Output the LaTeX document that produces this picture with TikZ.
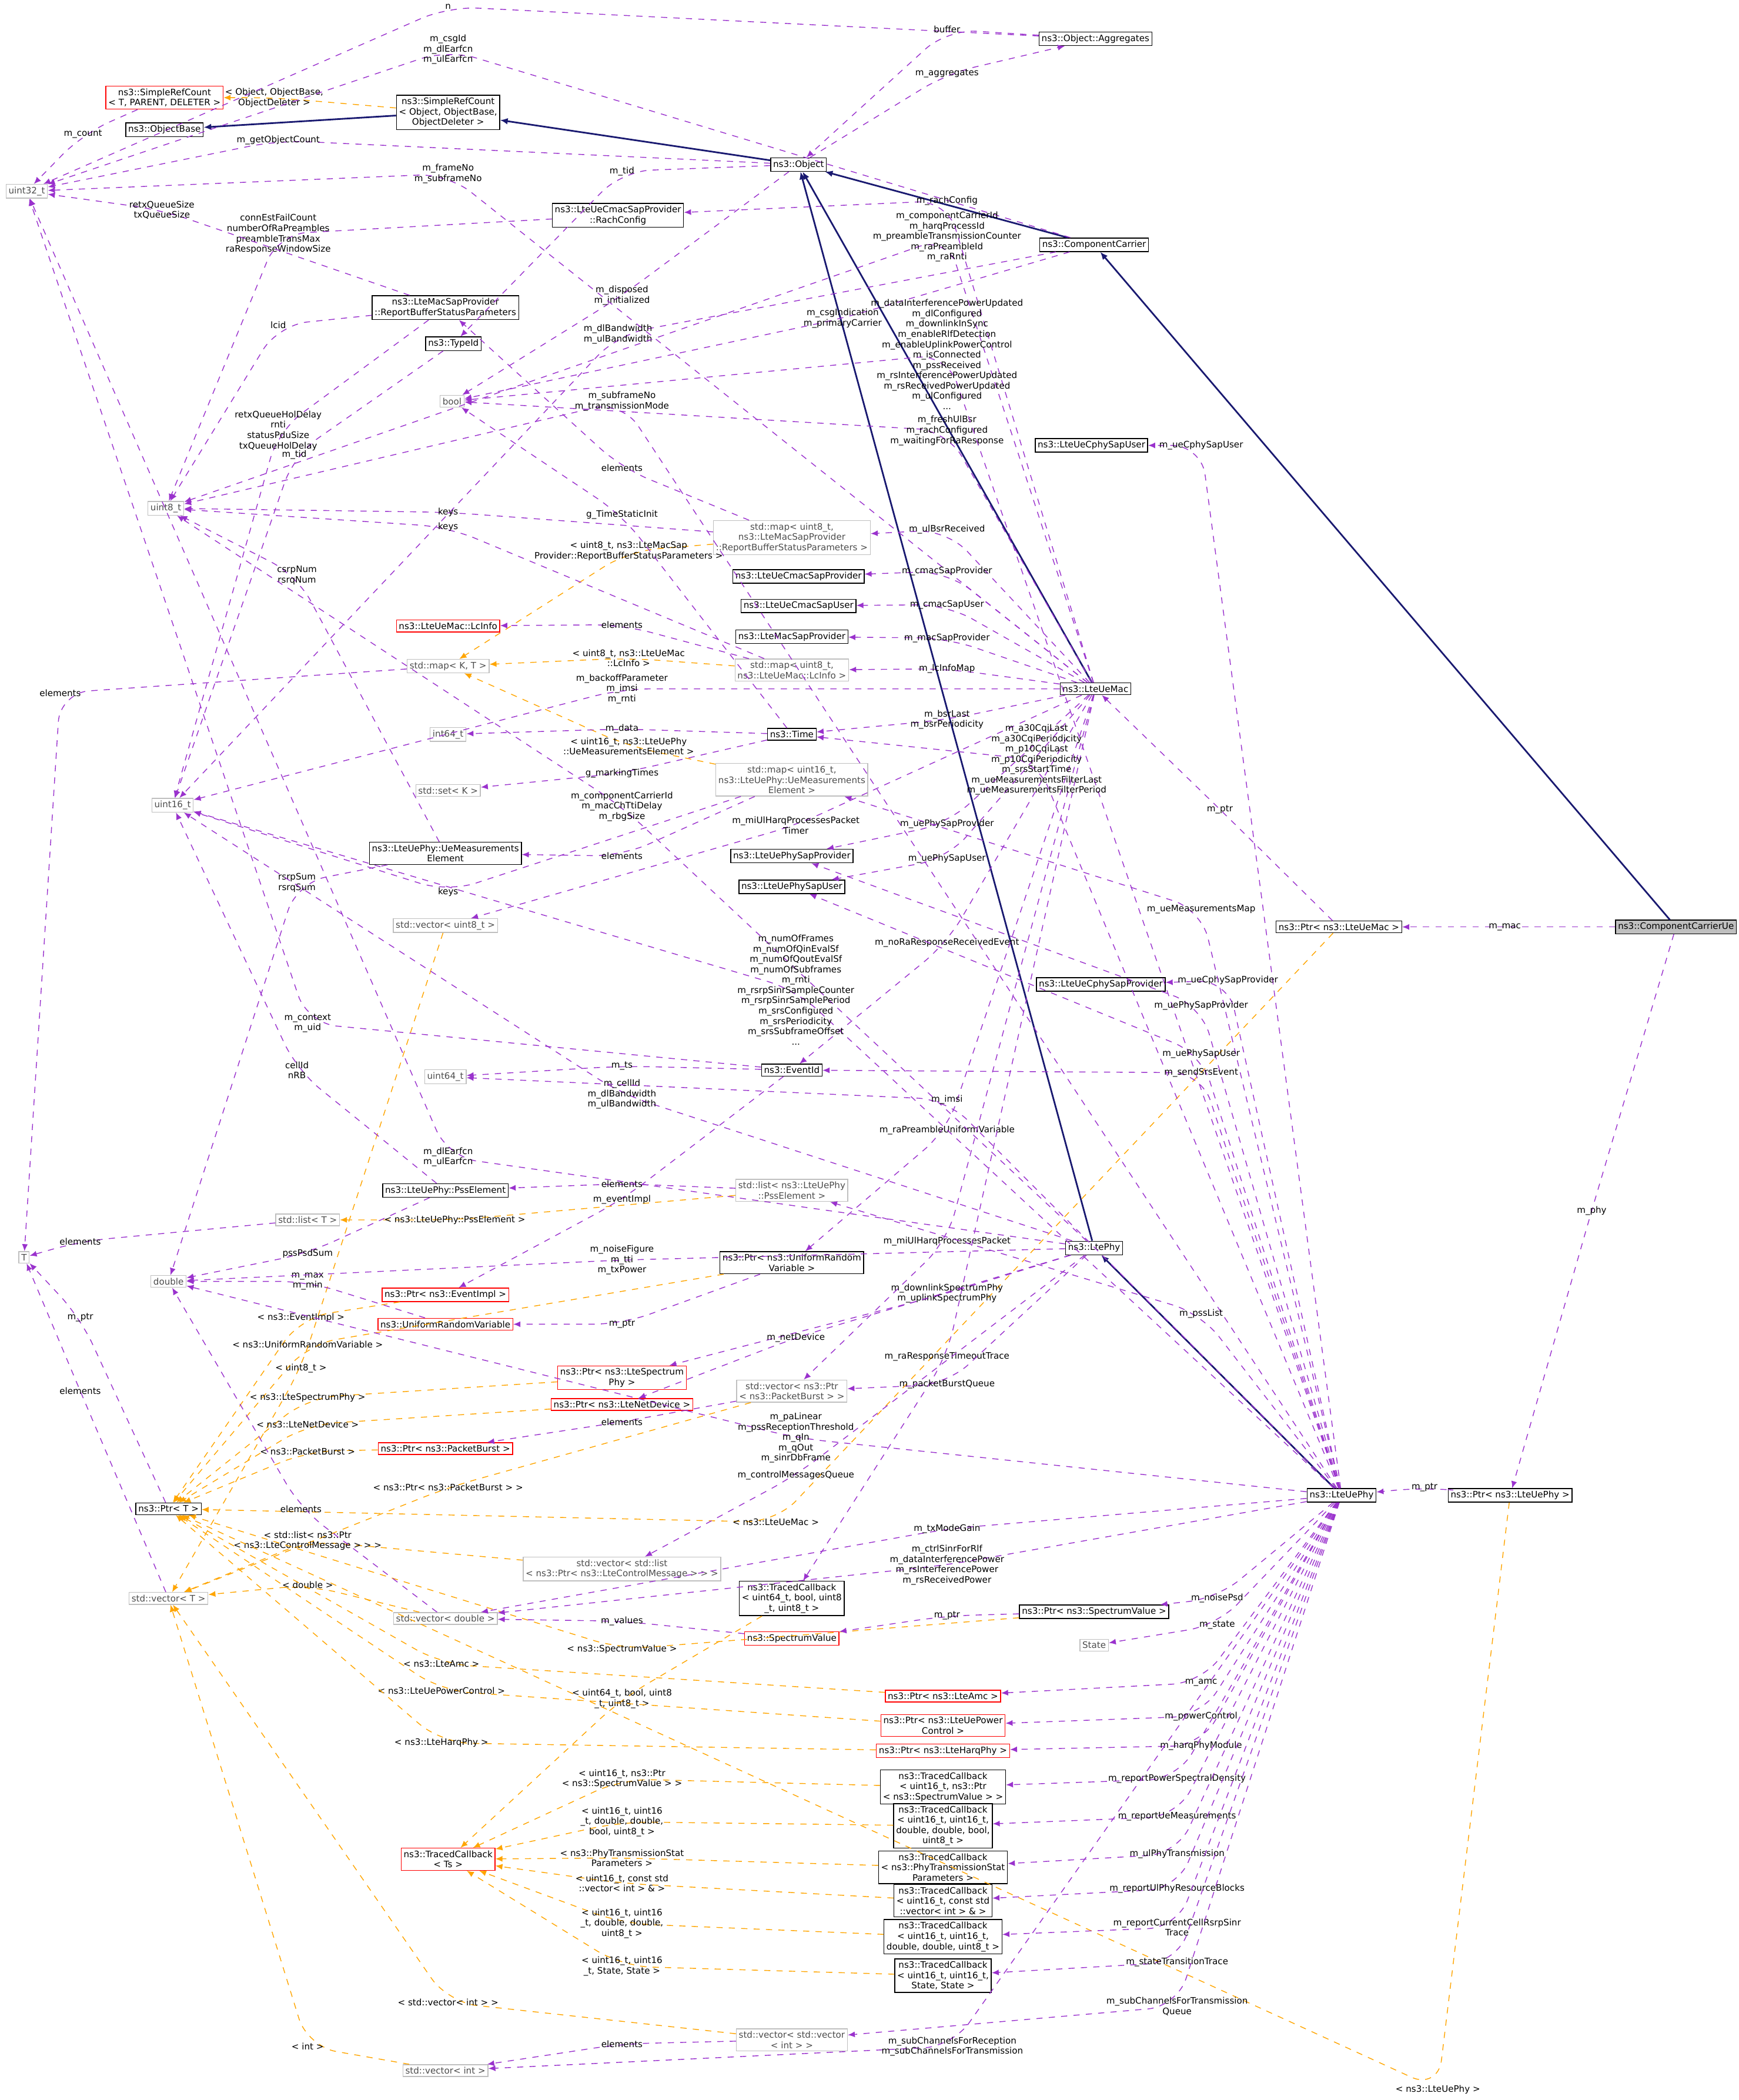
\documentclass[tikz,border=0pt]{standalone}
\usepackage{fontspec}
\setmainfont{DejaVu Sans}
\usetikzlibrary{arrows.meta}
\definecolor{usecol}{HTML}{9A32CD}
\definecolor{tplcol}{HTML}{FFA500}
\definecolor{inhcol}{HTML}{191970}
\definecolor{grayb}{HTML}{BFBFBF}
\newcommand{\edgevia}[5]{%
  \draw[#1, rounded corners=14pt] (#2) -- (#4) -- (#3);
  \node[lbl] at (#4) {#5};}
\begin{document}
\catcode`\_=12
\begin{tikzpicture}[x=0.02275cm, y=-0.02275cm,
    font=\fontsize{4.3}{5}\selectfont,
    cls/.style = {draw, rectangle, inner sep=1.2pt, align=center},
    ext/.style = {cls, draw=grayb, text=black!70},
    bad/.style = {cls, draw=red},
    inh/.style = {-{Latex[length=1.3mm,width=1.1mm]}, inhcol, thick},
    use/.style = {-{Latex[length=1.2mm,width=1mm]}, usecol, dashed},
    tpl/.style = {-{Latex[length=1.2mm,width=1mm]}, tplcol, dashed},
    lbl/.style = {align=center, text=black, inner sep=0.5pt}]
    \useasboundingbox (0,0) rectangle (1300,1570);
    % Nodes
    \node[cls, fill=grayb] (ccue) at (1253,693) {ns3::ComponentCarrierUe};
    \node[cls] (ptrmac) at (1001,693) {ns3::Ptr< ns3::LteUeMac >};
    \node[cls] (ptrphy) at (1129,1118) {ns3::Ptr< ns3::LteUePhy >};
    \node[cls] (uephy) at (1003,1118) {ns3::LteUePhy};
    \node[cls] (ltephy) at (818,933) {ns3::LtePhy};
    \node[cls] (uemac) at (819,515) {ns3::LteUeMac};
    \node[cls] (cc) at (818,183) {ns3::ComponentCarrier};
    \node[cls] (obj) at (597,123) {ns3::Object};
    \node[cls] (aggr) at (819,29) {ns3::Object::Aggregates};
    \node[cls] (srcobj) at (335,84) {ns3::SimpleRefCount\\< Object, ObjectBase,\\ObjectDeleter >};
    \node[bad] (srct) at (123,73) {ns3::SimpleRefCount\\< T, PARENT, DELETER >};
    \node[cls] (objbase) at (123,97) {ns3::ObjectBase};
    \node[ext] (uint32) at (20,143) {uint32_t};
    \node[cls] (rach) at (462,161) {ns3::LteUeCmacSapProvider\\::RachConfig};
    \node[cls] (rbs) at (333,230) {ns3::LteMacSapProvider\\::ReportBufferStatusParameters};
    \node[cls] (typeid) at (339,257) {ns3::TypeId};
    \node[ext] (bool) at (338,300) {bool};
    \node[ext] (uint8) at (124,380) {uint8_t};
    \node[ext] (maprbs) at (592,402) {std::map< uint8_t,\\ns3::LteMacSapProvider\\::ReportBufferStatusParameters >};
    \node[cls] (cmacprov) at (597,431) {ns3::LteUeCmacSapProvider};
    \node[cls] (cmacuser) at (597,453) {ns3::LteUeCmacSapUser};
    \node[cls] (macprov) at (592,476) {ns3::LteMacSapProvider};
    \node[ext] (maplc) at (592,501) {std::map< uint8_t,\\ns3::LteUeMac::LcInfo >};
    \node[bad] (lcinfo) at (335,468) {ns3::LteUeMac::LcInfo};
    \node[ext] (mapkt) at (335,498) {std::map< K, T >};
    \node[ext] (int64) at (335,549) {int64_t};
    \node[cls] (time) at (592,549) {ns3::Time};
    \node[ext] (setk) at (335,591) {std::set< K >};
    \node[ext] (mapmeas) at (592,583) {std::map< uint16_t,\\ns3::LteUePhy::UeMeasurements\\Element >};
    \node[ext] (uint16) at (129,602) {uint16_t};
    \node[cls] (meas) at (333,638) {ns3::LteUePhy::UeMeasurements\\Element};
    \node[cls] (physapprov) at (592,640) {ns3::LteUePhySapProvider};
    \node[cls] (physapuser) at (592,663) {ns3::LteUePhySapUser};
    \node[ext] (vecu8) at (333,692) {std::vector< uint8_t >};
    \node[cls] (cphyuser) at (816,333) {ns3::LteUeCphySapUser};
    \node[cls] (cphyprov) at (823,736) {ns3::LteUeCphySapProvider};
    \node[ext] (uint64) at (333,805) {uint64_t};
    \node[cls] (eventid) at (592,800) {ns3::EventId};
    \node[cls] (psselem) at (333,890) {ns3::LteUePhy::PssElement};
    \node[ext] (listpss) at (592,890) {std::list< ns3::LteUePhy\\::PssElement >};
    \node[ext] (listt) at (230,912) {std::list< T >};
    \node[ext] (tT) at (18,940) {T};
    \node[ext] (double) at (126,958) {double};
    \node[bad] (ptrevent) at (333,968) {ns3::Ptr< ns3::EventImpl >};
    \node[cls] (ptrurv) at (592,944) {ns3::Ptr< ns3::UniformRandom\\Variable >};
    \node[bad] (urv) at (333,990) {ns3::UniformRandomVariable};
    \node[bad] (ptrspec) at (465,1030) {ns3::Ptr< ns3::LteSpectrum\\Phy >};
    \node[bad] (ptrnet) at (465,1050) {ns3::Ptr< ns3::LteNetDevice >};
    \node[ext] (vecpb) at (592,1040) {std::vector< ns3::Ptr\\< ns3::PacketBurst > >};
    \node[bad] (ptrpb) at (333,1083) {ns3::Ptr< ns3::PacketBurst >};
    \node[cls] (ptrt) at (126,1128) {ns3::Ptr< T >};
    \node[ext] (veclist) at (465,1173) {std::vector< std::list\\< ns3::Ptr< ns3::LteControlMessage > > >};
    \node[ext] (vect) at (126,1195) {std::vector< T >};
    \node[ext] (vecdbl) at (333,1210) {std::vector< double >};
    \node[cls] (tc1) at (592,1195) {ns3::TracedCallback\\< uint64_t, bool, uint8\\_t, uint8_t >};
    \node[bad] (sv) at (592,1225) {ns3::SpectrumValue};
    \node[cls] (ptrsv) at (818,1205) {ns3::Ptr< ns3::SpectrumValue >};
    \node[ext] (state) at (818,1230) {State};
    \node[bad] (ptramc) at (705,1268) {ns3::Ptr< ns3::LteAmc >};
    \node[bad] (ptrpc) at (705,1290) {ns3::Ptr< ns3::LteUePower\\Control >};
    \node[bad] (ptrharq) at (705,1309) {ns3::Ptr< ns3::LteHarqPhy >};
    \node[cls] (tc2) at (705,1336) {ns3::TracedCallback\\< uint16_t, ns3::Ptr\\< ns3::SpectrumValue > >};
    \node[cls] (tc3) at (705,1365) {ns3::TracedCallback\\< uint16_t, uint16_t,\\double, double, bool,\\uint8_t >};
    \node[cls] (tc4) at (705,1396) {ns3::TracedCallback\\< ns3::PhyTransmissionStat\\Parameters >};
    \node[cls] (tc5) at (705,1421) {ns3::TracedCallback\\< uint16_t, const std\\::vector< int > \& >};
    \node[cls] (tc6) at (705,1448) {ns3::TracedCallback\\< uint16_t, uint16_t,\\double, double, uint8_t >};
    \node[cls] (tc7) at (705,1477) {ns3::TracedCallback\\< uint16_t, uint16_t,\\State, State >};
    \node[bad] (tcts) at (335,1390) {ns3::TracedCallback\\< Ts >};
    \node[ext] (vecvec) at (592,1525) {std::vector< std::vector\\< int > >};
    \node[ext] (vecint) at (333,1548) {std::vector< int >};

    % Inheritance
    \foreach \a/\b in {ccue/cc, cc/obj, uemac/obj, ltephy/obj, uephy/ltephy, obj/srcobj, srcobj/objbase}
        \draw[inh] (\a) -- (\b);

    % Template instances
    \foreach \a/\b/\l/\t in {srcobj/srct/{205,73}/{< Object, ObjectBase,\\ObjectDeleter >},
        maprbs/mapkt/{470,412}/{< uint8_t, ns3::LteMacSap\\Provider::ReportBufferStatusParameters >},
        maplc/mapkt/{470,492}/{< uint8_t, ns3::LteUeMac\\::LcInfo >},
        mapmeas/mapkt/{470,558}/{< uint16_t, ns3::LteUePhy\\::UeMeasurementsElement >},
        listpss/listt/{340,912}/{< ns3::LteUePhy::PssElement >},
        ptrevent/ptrt/{225,985}/{< ns3::EventImpl >},
        ptrurv/ptrt/{230,1005}/{< ns3::UniformRandomVariable >},
        vecu8/vect/{225,1023}/{< uint8_t >},
        ptrspec/ptrt/{230,1045}/{< ns3::LteSpectrumPhy >},
        ptrnet/ptrt/{230,1065}/{< ns3::LteNetDevice >},
        ptrpb/ptrt/{230,1085}/{< ns3::PacketBurst >},
        vecpb/vect/{335,1112}/{< ns3::Ptr< ns3::PacketBurst > >},
        ptrmac/ptrt/{580,1138}/{< ns3::LteUeMac >},
        veclist/vect/{230,1152}/{< std::list< ns3::Ptr\\< ns3::LteControlMessage > > >},
        vecdbl/vect/{230,1185}/{< double >},
        tc1/tcts/{465,1270}/{< uint64_t, bool, uint8\\_t, uint8_t >},
        ptrsv/ptrt/{465,1233}/{< ns3::SpectrumValue >},
        ptramc/ptrt/{330,1244}/{< ns3::LteAmc >},
        ptrpc/ptrt/{330,1264}/{< ns3::LteUePowerControl >},
        ptrharq/ptrt/{330,1303}/{< ns3::LteHarqPhy >},
        tc2/tcts/{465,1330}/{< uint16_t, ns3::Ptr\\< ns3::SpectrumValue > >},
        tc3/tcts/{465,1362}/{< uint16_t, uint16\\_t, double, double,\\bool, uint8_t >},
        tc4/tcts/{465,1389}/{< ns3::PhyTransmissionStat\\Parameters >},
        tc5/tcts/{465,1408}/{< uint16_t, const std\\::vector< int > \& >},
        tc6/tcts/{465,1438}/{< uint16_t, uint16\\_t, double, double,\\uint8_t >},
        tc7/tcts/{465,1470}/{< uint16_t, uint16\\_t, State, State >},
        vecvec/vect/{335,1497}/{< std::vector< int > >},
        vecint/vect/{230,1530}/{< int >},
        ptrphy/ptrt/{1075,1562}/{< ns3::LteUePhy >}}
        {\edgevia{tpl}{\a}{\b}{\l}{\t}}

    % Members
    \foreach \a/\b/\l/\t in {ccue/ptrmac/{1125,693}/{m_mac}, ccue/ptrphy/{1190,905}/{m_phy},
        ptrmac/uemac/{912,605}/{m_ptr}, ptrphy/uephy/{1065,1112}/{m_ptr},
        aggr/uint32/{335,5}/{n}, aggr/obj/{708,22}/{buffer}, obj/aggr/{708,55}/{m_aggregates},
        cc/uint32/{335,37}/{m_csgId\\m_dlEarfcn\\m_ulEarfcn},
        cc/bool/{630,238}/{m_csgIndication\\m_primaryCarrier},
        cc/uint16/{462,250}/{m_dlBandwidth\\m_ulBandwidth},
        srct/uint32/{62,100}/{m_count}, obj/uint32/{208,105}/{m_getObjectCount},
        obj/bool/{465,221}/{m_disposed\\m_initialized}, obj/typeid/{465,128}/{m_tid},
        typeid/uint16/{220,340}/{m_tid},
        rach/uint8/{208,175}/{connEstFailCount\\numberOfRaPreambles\\preambleTransMax\\raResponseWindowSize},
        rbs/uint32/{121,157}/{retxQueueSize\\txQueueSize}, rbs/uint8/{208,243}/{lcid},
        rbs/uint16/{208,322}/{retxQueueHolDelay\\rnti\\statusPduSize\\txQueueHolDelay},
        maprbs/uint8/{335,383}/{keys}, maprbs/rbs/{465,350}/{elements},
        maplc/lcinfo/{465,467}/{elements}, maplc/uint8/{335,394}/{keys},
        mapkt/tT/{45,518}/{elements}, time/int64/{465,545}/{m_data},
        time/bool/{465,385}/{g_TimeStaticInit}, time/setk/{465,578}/{g_markingTimes},
        mapmeas/uint16/{335,667}/{keys}, mapmeas/meas/{465,640}/{elements},
        meas/double/{222,660}/{rsrpSum\\rsrqSum}, meas/uint8/{222,430}/{csrpNum\\rsrqNum},
        eventid/uint32/{230,765}/{m_context\\m_uid}, eventid/uint64/{465,797}/{m_ts},
        eventid/ptrevent/{465,897}/{m_eventImpl},
        listpss/psselem/{465,885}/{elements}, psselem/uint16/{222,800}/{cellId\\nRB},
        psselem/double/{230,937}/{pssPsdSum}, listt/tT/{60,928}/{elements},
        ptrt/tT/{60,985}/{m_ptr}, vect/tT/{60,1040}/{elements},
        urv/double/{230,958}/{m_max\\m_min}, ptrurv/urv/{465,990}/{m_ptr},
        vecpb/ptrpb/{465,1063}/{elements}, vecdbl/double/{225,1128}/{elements},
        ptrsv/sv/{708,1208}/{m_ptr}, sv/vecdbl/{465,1212}/{m_values},
        vecvec/vecint/{465,1528}/{elements}}
        {\edgevia{use}{\a}{\b}{\l}{\t}}

    \foreach \a/\b/\l/\t in {uemac/uint8/{708,177}/{m_componentCarrierId\\m_harqProcessId\\m_preambleTransmissionCounter\\m_raPreambleId\\m_raRnti},
        uemac/rach/{708,150}/{m_rachConfig},
        uemac/bool/{708,322}/{m_freshUlBsr\\m_rachConfigured\\m_waitingForRaResponse},
        uemac/uint32/{335,130}/{m_frameNo\\m_subframeNo},
        uemac/maprbs/{708,396}/{m_ulBsrReceived}, uemac/cmacprov/{708,427}/{m_cmacSapProvider},
        uemac/cmacuser/{708,452}/{m_cmacSapUser}, uemac/macprov/{708,477}/{m_macSapProvider},
        uemac/maplc/{708,500}/{m_lcInfoMap},
        uemac/uint16/{465,515}/{m_backoffParameter\\m_imsi\\m_rnti},
        uemac/time/{708,538}/{m_bsrLast\\m_bsrPeriodicity},
        uemac/physapprov/{708,616}/{m_uePhySapProvider}, uemac/physapuser/{708,642}/{m_uePhySapUser},
        uemac/eventid/{708,705}/{m_noRaResponseReceivedEvent},
        uemac/ptrurv/{708,845}/{m_raPreambleUniformVariable},
        uemac/vecu8/{595,617}/{m_miUlHarqProcessesPacket\\Timer},
        uemac/vecpb/{708,928}/{m_miUlHarqProcessesPacket},
        uemac/tc1/{708,1014}/{m_raResponseTimeoutTrace},
        ltephy/uint8/{465,603}/{m_componentCarrierId\\m_macChTtiDelay\\m_rbgSize},
        ltephy/uint16/{465,818}/{m_cellId\\m_dlBandwidth\\m_ulBandwidth},
        ltephy/uint32/{335,865}/{m_dlEarfcn\\m_ulEarfcn},
        ltephy/double/{465,942}/{m_noiseFigure\\m_tti\\m_txPower},
        ltephy/ptrspec/{708,967}/{m_downlinkSpectrumPhy\\m_uplinkSpectrumPhy},
        ltephy/ptrnet/{595,1000}/{m_netDevice}, ltephy/vecpb/{708,1035}/{m_packetBurstQueue},
        ltephy/veclist/{595,1103}/{m_controlMessagesQueue}}
        {\edgevia{use}{\a}{\b}{\l}{\t}}

    \foreach \a/\b/\l/\t in {uephy/cphyuser/{898,333}/{m_ueCphySapUser},
        uephy/cphyprov/{918,733}/{m_ueCphySapProvider},
        uephy/bool/{708,265}/{m_dataInterferencePowerUpdated\\m_dlConfigured\\m_downlinkInSync\\m_enableRlfDetection\\m_enableUplinkPowerControl\\m_isConnected\\m_pssReceived\\m_rsInterferencePowerUpdated\\m_rsReceivedPowerUpdated\\m_ulConfigured\\...},
        uephy/uint8/{465,300}/{m_subframeNo\\m_transmissionMode},
        uephy/time/{775,568}/{m_a30CqiLast\\m_a30CqiPeriodicity\\m_p10CqiLast\\m_p10CqiPeriodicity\\m_srsStartTime\\m_ueMeasurementsFilterLast\\m_ueMeasurementsFilterPeriod},
        uephy/mapmeas/{898,680}/{m_ueMeasurementsMap},
        uephy/physapprov/{898,752}/{m_uePhySapProvider}, uephy/physapuser/{898,788}/{m_uePhySapUser},
        uephy/uint16/{595,740}/{m_numOfFrames\\m_numOfQinEvalSf\\m_numOfQoutEvalSf\\m_numOfSubframes\\m_rnti\\m_rsrpSinrSampleCounter\\m_rsrpSinrSamplePeriod\\m_srsConfigured\\m_srsPeriodicity\\m_srsSubframeOffset\\...},
        uephy/eventid/{898,802}/{m_sendSrsEvent}, uephy/uint64/{708,822}/{m_imsi},
        uephy/listpss/{898,982}/{m_pssList},
        uephy/double/{595,1075}/{m_paLinear\\m_pssReceptionThreshold\\m_qIn\\m_qOut\\m_sinrDbFrame},
        uephy/vecdbl/{708,1143}/{m_txModeGain},
        uephy/vecdbl/{708,1170}/{m_ctrlSinrForRlf\\m_dataInterferencePower\\m_rsInterferencePower\\m_rsReceivedPower},
        uephy/ptrsv/{910,1195}/{m_noisePsd}, uephy/state/{910,1215}/{m_state},
        uephy/ptramc/{898,1258}/{m_amc}, uephy/ptrpc/{898,1283}/{m_powerControl},
        uephy/ptrharq/{898,1305}/{m_harqPhyModule},
        uephy/tc2/{880,1330}/{m_reportPowerSpectralDensity},
        uephy/tc3/{880,1358}/{m_reportUeMeasurements}, uephy/tc4/{880,1386}/{m_ulPhyTransmission},
        uephy/tc5/{880,1412}/{m_reportUlPhyResourceBlocks},
        uephy/tc6/{880,1441}/{m_reportCurrentCellRsrpSinr\\Trace},
        uephy/tc7/{880,1467}/{m_stateTransitionTrace},
        uephy/vecvec/{880,1500}/{m_subChannelsForTransmission\\Queue},
        uephy/vecint/{712,1530}/{m_subChannelsForReception\\m_subChannelsForTransmission}}
        {\edgevia{use}{\a}{\b}{\l}{\t}}
\end{tikzpicture}
\end{document}
